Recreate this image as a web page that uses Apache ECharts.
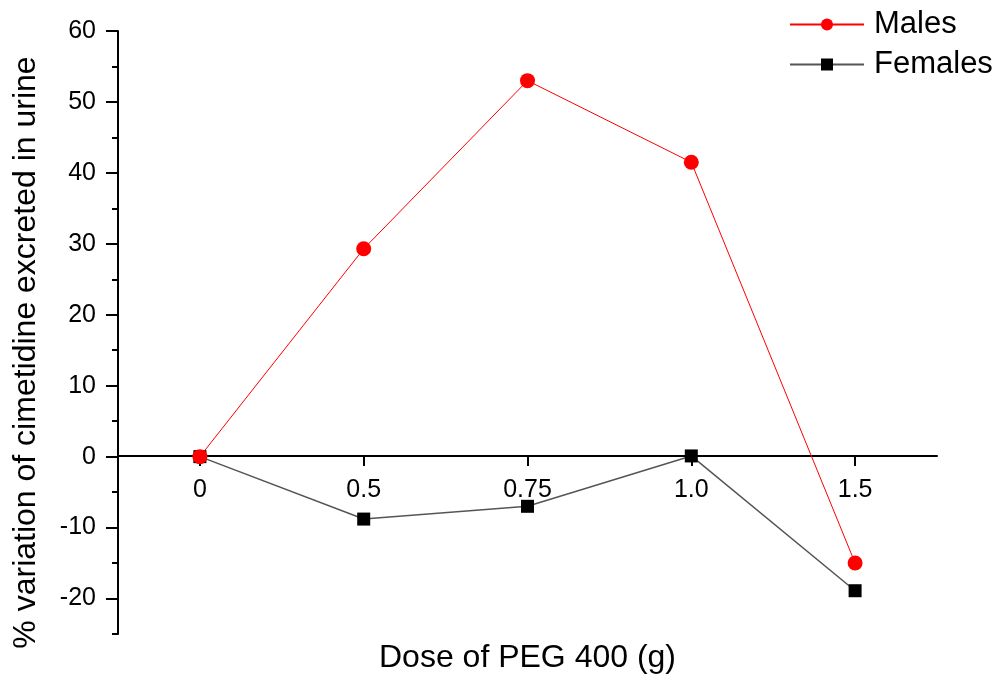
<!DOCTYPE html>
<html>
<head>
<meta charset="utf-8">
<script src="https://cdn.jsdelivr.net/npm/echarts@6/dist/echarts.min.js"></script>
<style>html,body{margin:0;padding:0;background:#fff;}#c{width:999px;height:679px;}</style>
</head>
<body>
<div id="c"></div>
<script>
var categories = ['0', '0.5', '0.75', '1.0', '1.5'];
var males = [0, 29.3, 53.0, 41.5, -15.0];
var females = [0, -8.8, -7.0, 0.1, -18.9];
var majorTicks = [-20, -10, 0, 10, 20, 30, 40, 50, 60];
var minorTicks = [-25, -15, -5, 5, 15, 25, 35, 45, 55];

var FONT = "'Liberation Sans', Arial, sans-serif";
var chart = echarts.init(document.getElementById('c'), null, {renderer: 'canvas'});
chart.setOption({
  animation: false,
  backgroundColor: '#ffffff',
  grid: {left: 118, right: 62, top: 31, bottom: 45, containLabel: false, outerBoundsMode: 'none'},
  legend: {
    orient: 'vertical', left: 784, top: 4, itemGap: 9,
    itemWidth: 74, itemHeight: 15,
    data: ['Males', 'Females'],
    textStyle: {fontFamily: FONT, fontSize: 31, color: '#000', padding: [0, 0, 0, 5]}
  },
  xAxis: {
    type: 'category', data: categories, boundaryGap: true,
    position: 'bottom', offset: -178,
    name: 'Dose of PEG 400 (g)', nameLocation: 'middle', nameGap: 186,
    nameTextStyle: {fontFamily: FONT, fontSize: 32, color: '#000'},
    axisLine: {onZero: false, lineStyle: {color: '#000', width: 2}},
    axisTick: {show: true, alignWithLabel: true, length: 10, lineStyle: {color: '#000', width: 2}},
    axisLabel: {fontFamily: FONT, fontSize: 25, color: '#000', margin: 22},
    splitLine: {show: false}
  },
  yAxis: [{
    type: 'value', min: -25, max: 60, position: 'left',
    name: '% variation of cimetidine excreted in urine', nameLocation: 'middle', nameGap: 76,
    nameTextStyle: {fontFamily: FONT, fontSize: 32, color: '#000', padding: [0, 40, 0, 0]},
    axisLine: {show: true, onZero: false, lineStyle: {color: '#000', width: 2}},
    axisTick: {show: true, customValues: majorTicks, length: 12, lineStyle: {color: '#000', width: 2}},
    axisLabel: {customValues: majorTicks, fontFamily: FONT, fontSize: 25, color: '#000', margin: 22},
    splitLine: {show: false}
  }, {
    type: 'value', min: -25, max: 60, position: 'left',
    axisLine: {show: false},
    axisTick: {show: true, customValues: minorTicks, length: 6, lineStyle: {color: '#000', width: 2}},
    axisLabel: {show: false},
    splitLine: {show: false}
  }],
  series: [{
    name: 'Males', type: 'line', data: males, z: 4,
    symbol: 'circle', symbolSize: 15,
    itemStyle: {color: '#ff0000'},
    lineStyle: {color: '#ff0000', width: 1}
  }, {
    name: 'Females', type: 'line', data: females, z: 3,
    symbol: 'rect', symbolSize: 13,
    itemStyle: {color: '#000000'},
    lineStyle: {color: '#555555', width: 1.5}
  }]
});
</script>
</body>
</html>
